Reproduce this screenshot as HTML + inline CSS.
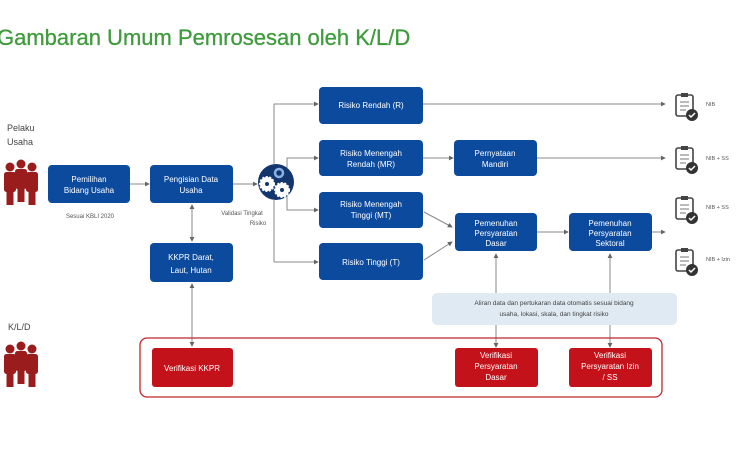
<!DOCTYPE html>
<html><head><meta charset="utf-8"><style>
html,body{margin:0;padding:0;background:#fff;width:750px;height:450px;overflow:hidden}
svg{display:block}
text{font-family:"Liberation Sans",sans-serif}
</style></head><body>
<svg width="750" height="450" viewBox="0 0 750 450" xmlns="http://www.w3.org/2000/svg">
<defs>
<marker id="a" viewBox="0 0 6 6" refX="5" refY="3" markerWidth="5" markerHeight="5" orient="auto-start-reverse"><path d="M0,0L6,3L0,6z" fill="#666"/></marker>
<g id="pp" fill="#9b1c1c">
<circle cx="0" cy="0" r="4.5"/><rect x="-6" y="5" width="12" height="20" rx="2.5"/><rect x="-3.5" y="24" width="7" height="14"/>
</g>
<g id="doc">
<rect x="0" y="0" width="17" height="21" rx="2" fill="none" stroke="#444" stroke-width="1.6"/>
<rect x="5" y="-2" width="7" height="4" fill="#444"/>
<line x1="4" y1="7" x2="13" y2="7" stroke="#777" stroke-width="1"/>
<line x1="4" y1="11" x2="13" y2="11" stroke="#777" stroke-width="1"/>
<line x1="4" y1="15" x2="10" y2="15" stroke="#777" stroke-width="1"/>
<circle cx="16" cy="20" r="6" fill="#333"/>
<path d="M13,20l2,2l4,-4" stroke="#fff" stroke-width="1.5" fill="none"/>
</g>
</defs>

<text x="-3" y="45" font-size="22" fill="#3f9b3c" stroke="#3f9b3c" stroke-width="0.3">Gambaran Umum Pemrosesan oleh K/L/D</text>

<text x="7" y="131" font-size="9" fill="#444">Pelaku</text>
<text x="7" y="145" font-size="9" fill="#444">Usaha</text>
<g transform="translate(10,167)"><use href="#pp"/></g>
<g transform="translate(32,167)"><use href="#pp"/></g>
<g transform="translate(21,164)" ><use href="#pp"/></g>
<text x="8" y="330" font-size="9" fill="#444">K/L/D</text>
<g transform="translate(10,349)"><use href="#pp"/></g>
<g transform="translate(32,349)"><use href="#pp"/></g>
<g transform="translate(21,346)"><use href="#pp"/></g>

<g stroke="#888" stroke-width="1" fill="none">
<line x1="130" y1="184" x2="149" y2="184" marker-end="url(#a)"/>
<line x1="233" y1="184" x2="257" y2="184" marker-end="url(#a)"/>
<line x1="192" y1="205" x2="192" y2="241" marker-start="url(#a)" marker-end="url(#a)"/>
<line x1="192" y1="284" x2="192" y2="346" marker-start="url(#a)" marker-end="url(#a)"/>
<polyline points="274,164 274,104 318,104" marker-end="url(#a)"/>
<line x1="274" y1="200" x2="274" y2="262"/>
<line x1="274" y1="262" x2="318" y2="262" marker-end="url(#a)"/>
<polyline points="287,168 287,158 318,158" marker-end="url(#a)"/>
<polyline points="287,196 287,210 318,210" marker-end="url(#a)"/>
<line x1="423" y1="104" x2="665" y2="104" marker-end="url(#a)"/>
<line x1="423" y1="158" x2="453" y2="158" marker-end="url(#a)"/>
<line x1="537" y1="158" x2="665" y2="158" marker-end="url(#a)"/>
<line x1="424" y1="212" x2="452" y2="227" marker-end="url(#a)"/>
<line x1="424" y1="260" x2="452" y2="242" marker-end="url(#a)"/>
<line x1="537" y1="232" x2="568" y2="232" marker-end="url(#a)"/>
<line x1="652" y1="232" x2="665" y2="232" marker-end="url(#a)"/>
<line x1="496" y1="347" x2="496" y2="254" marker-start="url(#a)" marker-end="url(#a)"/>
<line x1="610" y1="347" x2="610" y2="254" marker-start="url(#a)" marker-end="url(#a)"/>
</g>

<g fill="#0c4a9e">
<rect x="48" y="165" width="82" height="38" rx="4"/>
<rect x="150" y="165" width="83" height="38" rx="4"/>
<rect x="150" y="243" width="83" height="39" rx="4"/>
<rect x="319" y="87" width="104" height="37" rx="4"/>
<rect x="319" y="140" width="104" height="36" rx="4"/>
<rect x="454" y="140" width="83" height="36" rx="4"/>
<rect x="319" y="192" width="104" height="36" rx="4"/>
<rect x="319" y="243" width="104" height="37" rx="4"/>
<rect x="455" y="213" width="82" height="38" rx="4"/>
<rect x="569" y="213" width="83" height="38" rx="4"/>
</g>
<circle cx="276" cy="182" r="18" fill="#13366f"/>
<circle cx="267" cy="184" r="7" fill="#fff" stroke="#fff" stroke-width="2" stroke-dasharray="2 1.5"/><circle cx="267" cy="184" r="2" fill="#13366f"/>
<circle cx="282" cy="190" r="7" fill="#fff" stroke="#fff" stroke-width="2" stroke-dasharray="2 1.5"/><circle cx="282" cy="190" r="2" fill="#13366f"/>
<circle cx="279" cy="173" r="4" fill="none" stroke="#8ab0e6" stroke-width="2.5"/>

<g font-size="8" fill="#fff" text-anchor="middle">
<text x="89" y="182">Pemilihan</text><text x="89" y="193">Bidang Usaha</text>
<text x="191" y="182">Pengisian Data</text><text x="191" y="193">Usaha</text>
<text x="191" y="260">KKPR Darat,</text><text x="191" y="273">Laut, Hutan</text>
<text x="371" y="108">Risiko Rendah (R)</text>
<text x="371" y="156">Risiko Menengah</text><text x="371" y="167">Rendah (MR)</text>
<text x="495" y="156">Pernyataan</text><text x="495" y="167">Mandiri</text>
<text x="371" y="207">Risiko Menengah</text><text x="371" y="218">Tinggi (MT)</text>
<text x="371" y="265">Risiko Tinggi (T)</text>
<text x="496" y="226">Pemenuhan</text><text x="496" y="236">Persyaratan</text><text x="496" y="246">Dasar</text>
<text x="610" y="226">Pemenuhan</text><text x="610" y="236">Persyaratan</text><text x="610" y="246">Sektoral</text>
</g>
<g font-size="6" fill="#555" text-anchor="middle">
<text x="90" y="218">Sesuai KBLI 2020</text>
<text x="242" y="215">Validasi Tingkat</text><text x="258" y="225">Risiko</text>
</g>

<g transform="translate(676,95)"><use href="#doc"/></g>
<g transform="translate(676,148)"><use href="#doc"/></g>
<g transform="translate(676,198)"><use href="#doc"/></g>
<g transform="translate(676,250)"><use href="#doc"/></g>
<g font-size="5.5" fill="#555">
<text x="706" y="106">NIB</text><text x="706" y="160">NIB + SS</text>
<text x="706" y="209">NIB + SS</text><text x="706" y="261">NIB + Izin</text>
</g>

<rect x="432" y="293" width="245" height="32" rx="5" fill="#dfeaf2"/>
<g font-size="6.5" fill="#444" text-anchor="middle">
<text x="554" y="305">Aliran data dan pertukaran data otomatis sesuai bidang</text>
<text x="554" y="316">usaha, lokasi, skala, dan tingkat risiko</text>
</g>

<rect x="140" y="338" width="522" height="59" rx="7" fill="none" stroke="#c0262a" stroke-width="1.3"/>
<g fill="#c3121a">
<rect x="152" y="348" width="81" height="39" rx="3"/>
<rect x="455" y="348" width="83" height="39" rx="3"/>
<rect x="569" y="348" width="83" height="39" rx="3"/>
</g>
<g font-size="8" fill="#fff" text-anchor="middle">
<text x="192" y="371">Verifikasi KKPR</text>
<text x="496" y="358">Verifikasi</text><text x="496" y="369">Persyaratan</text><text x="496" y="380">Dasar</text>
<text x="610" y="358">Verifikasi</text><text x="610" y="369">Persyaratan Izin</text><text x="610" y="380">/ SS</text>
</g>
</svg>
</body></html>
